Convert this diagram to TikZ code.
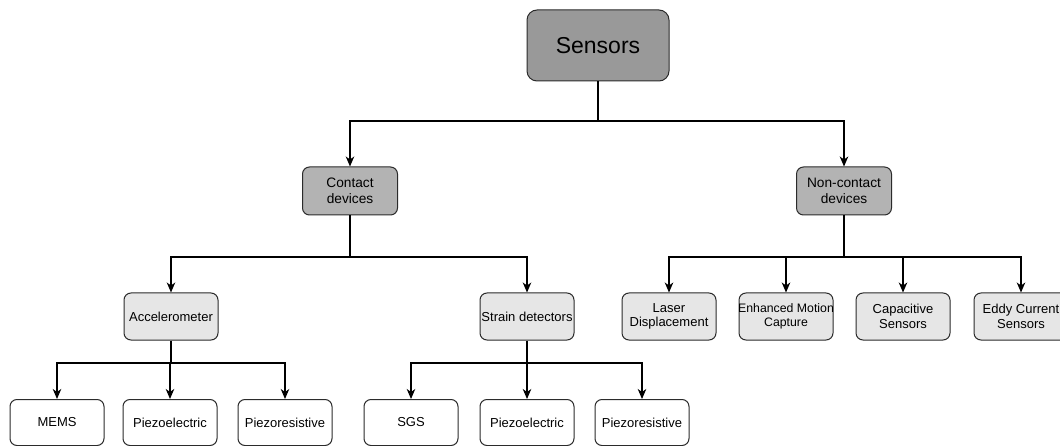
\documentclass[tikz,border=0pt]{standalone}
\usepackage{fontspec}
\setmainfont{Liberation Sans}
\usetikzlibrary{arrows.meta}
\definecolor{topfill}{HTML}{999999}
\definecolor{midfill}{HTML}{B3B3B3}
\definecolor{lowfill}{HTML}{E6E6E6}
\definecolor{edge}{HTML}{2B2B2B}
\tikzset{
  box/.style={draw=edge, line width=1pt, rounded corners=7pt, align=center, inner ysep=0pt, inner xsep=-4pt, text=black},
  topbox/.style={box, fill=topfill, minimum width=142pt, minimum height=71pt, rounded corners=10pt, font=\fontsize{23}{27}\selectfont},
  midbox/.style={box, fill=midfill, minimum width=95pt, minimum height=48pt, font=\fontsize{13.7}{16}\selectfont},
  lowbox/.style={box, fill=lowfill, minimum width=94pt, minimum height=47pt, font=\fontsize{13}{14.5}\selectfont},
  leafbox/.style={box, fill=white, minimum width=94pt, minimum height=46pt, font=\fontsize{13}{14.5}\selectfont},
  conn/.style={draw=black, line width=1.1pt},
  arr/.style={conn, -{Stealth[length=10pt,width=8.5pt,inset=3pt]}}
}
\begin{document}
\begin{tikzpicture}[x=1pt,y=-1pt]
\useasboundingbox (0,0) rectangle (1060,446);
% nodes
\node[topbox] (sensors) at (598,45.5) {Sensors};
\node[midbox] (contact) at (350,191) {Contact\\devices};
\node[midbox] (noncontact) at (844,191) {Non-contact\\devices};
\node[lowbox] (accel) at (171,316.5) {Accelerometer};
\node[lowbox] (strain) at (527,316.5) {Strain detectors};
\node[lowbox] (laser) at (669,316.5) {Laser\\Displacement};
\node[lowbox, font=\fontsize{12.3}{14.5}\selectfont] (motion) at (786,316.5) {Enhanced Motion\\Capture};
\node[lowbox] (capac) at (903,316.5) {Capacitive\\Sensors};
\node[lowbox] (eddy) at (1021,316.5) {Eddy Current\\Sensors};
\node[leafbox] (mems) at (57,422.5) {MEMS};
\node[leafbox] (pe1) at (170,422.5) {Piezoelectric};
\node[leafbox] (pr1) at (285,422.5) {Piezoresistive};
\node[leafbox] (sgs) at (411,422.5) {SGS};
\node[leafbox] (pe2) at (527,422.5) {Piezoelectric};
\node[leafbox] (pr2) at (642,422.5) {Piezoresistive};
% junctions
\coordinate (j1) at (598,121);
\coordinate (j2) at (350,257);
\coordinate (j3) at (844,257);
\coordinate (j4) at (171,363);
\coordinate (j5) at (527,363);
% connectors
\draw[conn] (sensors.south) -- (j1);
\draw[arr] (j1) -| (contact.north);
\draw[arr] (j1) -| (noncontact.north);
\draw[conn] (contact.south) -- (j2);
\draw[arr] (j2) -| (accel.north);
\draw[arr] (j2) -| (strain.north);
\draw[conn] (noncontact.south) -- (j3);
\draw[arr] (j3) -| (laser.north);
\draw[arr] (j3) -| (motion.north);
\draw[arr] (j3) -| (capac.north);
\draw[arr] (j3) -| (eddy.north);
\draw[conn] (accel.south) -- (j4);
\draw[arr] (j4) -| (mems.north);
\draw[arr] (j4) -| (pe1.north);
\draw[arr] (j4) -| (pr1.north);
\draw[conn] (strain.south) -- (j5);
\draw[arr] (j5) -| (sgs.north);
\draw[arr] (j5) -| (pe2.north);
\draw[arr] (j5) -| (pr2.north);
\end{tikzpicture}
\end{document}
